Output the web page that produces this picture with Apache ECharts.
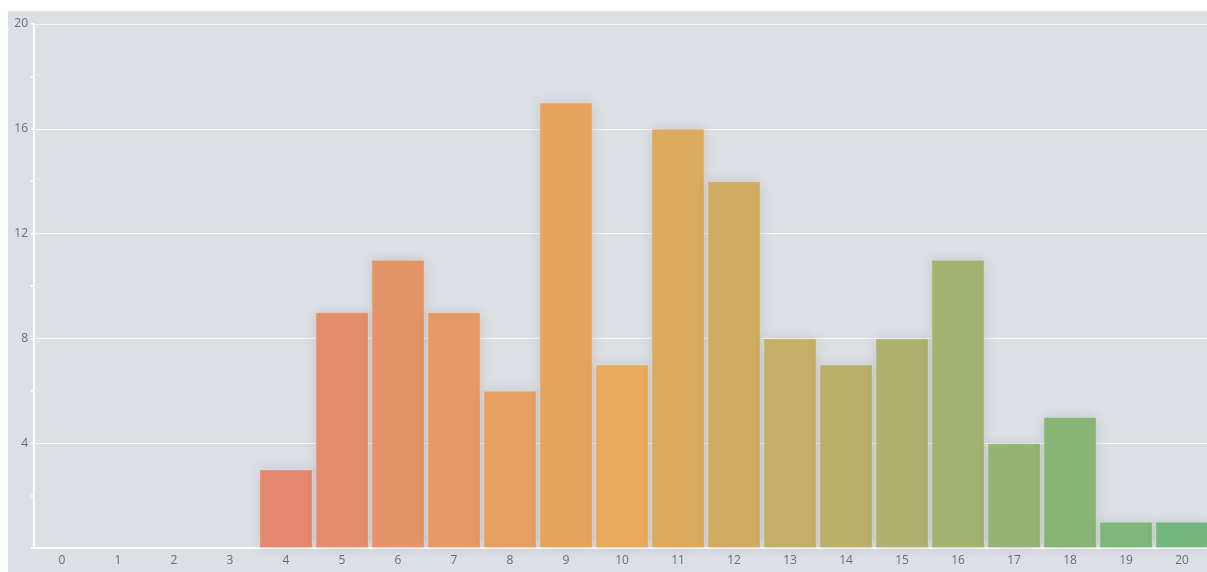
<!DOCTYPE html>
<html>
<head>
<meta charset="utf-8">
<script src="https://cdn.jsdelivr.net/npm/echarts@6/dist/echarts.min.js"></script>
<style>
html, body { margin: 0; padding: 0; overflow: hidden; background: #ffffff; width: 1207px; height: 572px; }
#chart { position: absolute; left: 8px; top: 11px; width: 1202px; height: 561px; }
</style>
</head>
<body>
<div id="chart"></div>
<script>
const categories = ['0','1','2','3','4','5','6','7','8','9','10','11','12','13','14','15','16','17','18','19','20'];
const counts = [0, 0, 0, 0, 3, 9, 11, 9, 6, 17, 7, 16, 14, 8, 7, 8, 11, 4, 5, 1, 1];
const yTicks = { min: 0, max: 20, interval: 4 };

const chart = echarts.init(document.getElementById('chart'));
chart.setOption({
  backgroundColor: '#dcdfe4',
  animation: false,
  grid: { left: 26, right: 0, top: 13, bottom: 24 },
  visualMap: {
    show: false,
    type: 'continuous',
    dimension: 0,
    min: 0,
    max: 20,
    inRange: { color: ['#e1717a', '#e8aa5c', '#73b77d'] }
  },
  xAxis: {
    type: 'category',
    data: categories,
    axisLine: { show: true, lineStyle: { color: '#ffffff', width: 2 } },
    axisTick: { show: false },
    axisLabel: { color: '#6a6d73', fontSize: 12, margin: 7, fontFamily: 'Open Sans' }
  },
  yAxis: {
    type: 'value',
    min: yTicks.min,
    max: yTicks.max,
    interval: yTicks.interval,
    axisLine: { show: true, lineStyle: { color: '#ffffff', width: 2 } },
    axisTick: { show: true, length: 3, lineStyle: { color: '#ffffff', width: 2 } },
    minorTick: { show: true, splitNumber: 2, length: 3, lineStyle: { color: '#ffffff', width: 2 } },
    axisLabel: { color: '#6a6d73', fontSize: 12, margin: 6, showMinLabel: false, fontFamily: 'Open Sans' },
    splitLine: { show: true, lineStyle: { color: 'rgba(255,255,255,0.7)', width: 1 } }
  },
  series: [{
    type: 'bar',
    data: counts.map((v, i) => [i, v]),
    barCategoryGap: '5%',
    itemStyle: {
      shadowBlur: 12,
      shadowColor: 'rgba(0,0,0,0.12)',
      borderColor: 'rgba(255,255,255,0.25)',
      borderWidth: 1
    }
  }]
});
</script>
</body>
</html>
